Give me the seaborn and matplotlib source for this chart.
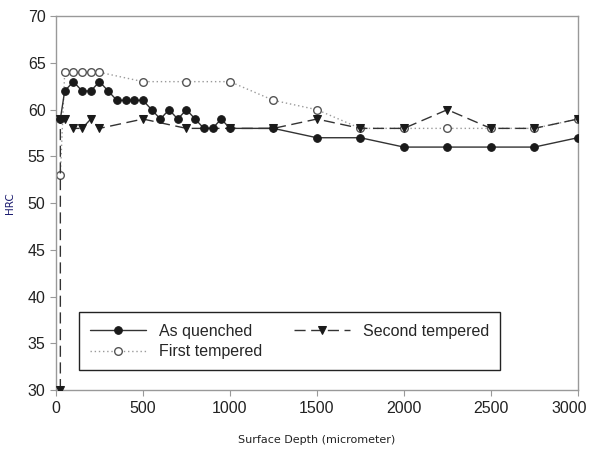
import matplotlib
matplotlib.use("Agg")
import matplotlib.pyplot as plt
import matplotlib.transforms as mtransforms
import seaborn as sns

# Values
quenched_x = [25, 50, 100, 150, 200, 250, 300, 350, 400, 450, 500, 550, 600, 650, 700,
              750, 800, 850, 900, 950, 1000, 1250, 1500, 1750, 2000, 2250, 2500, 2750, 3000]
quenched_y = [59, 62, 63, 62, 62, 63, 62, 61, 61, 61, 61, 60, 59, 60, 59,
              60, 59, 58, 58, 59, 58, 58, 57, 57, 56, 56, 56, 56, 57]

first_x = [25, 50, 100, 150, 200, 250, 500, 750, 1000, 1250, 1500, 1750, 2000, 2250, 2500, 2750, 3000]
first_y = [53, 64, 64, 64, 64, 64, 63, 63, 63, 61, 60, 58, 58, 58, 58, 58, 59]

second_x = [25, 25, 50, 100, 150, 200, 250, 500, 750, 1000, 1250, 1500, 1750, 2000, 2250, 2500, 2750, 3000]
second_y = [30, 59, 59, 58, 58, 59, 58, 59, 58, 58, 58, 59, 58, 58, 60, 58, 58, 59]

x_ticks = [0, 500, 1000, 1500, 2000, 2500, 3000]
y_ticks = [30, 35, 40, 45, 50, 55, 60, 65, 70]

sns.set_style("white")
plt.rcParams['font.family'] = ['Liberation Sans', 'DejaVu Sans']

fig, ax = plt.subplots(figsize=(5.92, 4.5), dpi=100)
fig.subplots_adjust(left=0.0946, right=0.976, top=0.964, bottom=0.133)

ink = "#1a1a1a"

# first tempered and second tempered below, quenched on top
sns.lineplot(x=first_x, y=first_y, ax=ax, estimator=None, sort=False,
             color="#9a9a9a", linestyle=(0, (1, 2)), linewidth=1.0,
             marker="o", markersize=5.5, markerfacecolor="white",
             markeredgecolor="#555555", markeredgewidth=1.0, label="First tempered", zorder=2)
sns.lineplot(x=second_x, y=second_y, ax=ax, estimator=None, sort=False,
             color="#333333", linestyle=(0, (8, 4)), linewidth=1.0,
             marker="v", markersize=6, markerfacecolor=ink,
             markeredgecolor=ink, label="Second tempered", zorder=3)
sns.lineplot(x=quenched_x, y=quenched_y, ax=ax, estimator=None, sort=False,
             color="#333333", linestyle="-", linewidth=1.0,
             marker="o", markersize=5.5, markerfacecolor=ink,
             markeredgecolor=ink, label="As quenched", zorder=4)

ax.set_xlim(0, 3000)
ax.set_ylim(30, 70)
ax.set_xticks(x_ticks)
ax.set_yticks(y_ticks)
ax.tick_params(axis="both", labelsize=11.5, labelcolor="#222222", length=4,
               width=0.8, color="#999999", direction="out", bottom=True, left=True)

# the last x label sits a little inside the figure in the reference
last = ax.get_xticklabels()[-1]
last.set_transform(last.get_transform() + mtransforms.ScaledTranslation(-6 / 72, 0, fig.dpi_scale_trans))

for sp in ax.spines.values():
    sp.set_color("#999999")
    sp.set_linewidth(1.0)

ax.set_xlabel("Surface Depth (micrometer)", fontsize=8, family="DejaVu Sans",
              color="#222222", labelpad=14)
ax.set_ylabel("HRC", fontsize=7.5, family="DejaVu Sans", color="#1a1a6e", labelpad=9)

handles, labels = ax.get_legend_handles_labels()
order = [labels.index(n) for n in ["As quenched", "First tempered", "Second tempered"]]
leg = ax.legend([handles[i] for i in order], [labels[i] for i in order],
                ncol=2, loc="lower left", bbox_to_anchor=(0.044, 0.053),
                fontsize=11.5, handlelength=3.5, handletextpad=0.8, frameon=True,
                fancybox=False, edgecolor="#222222", framealpha=1,
                borderpad=0.7, borderaxespad=0, labelspacing=0.35, columnspacing=2.0)
leg.get_frame().set_linewidth(1.0)

plt.savefig("out.png", dpi=100)
plt.close()
